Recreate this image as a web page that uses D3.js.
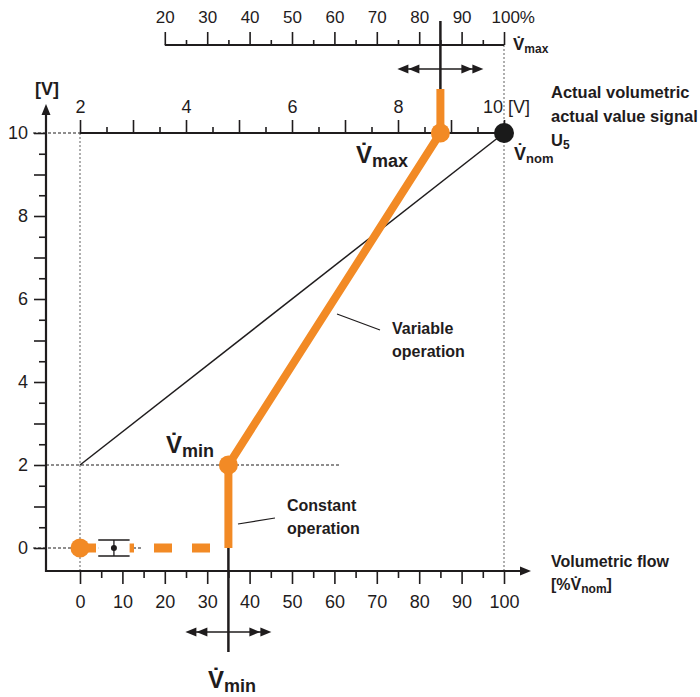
<!DOCTYPE html>
<html><head><meta charset="utf-8">
<script src="https://cdn.jsdelivr.net/npm/d3@7"></script>
<style>
body{margin:0;background:#fff}
svg{display:block}
text{font-family:"Liberation Sans",Arial,Helvetica,sans-serif;fill:#1f1c1d}
.b{font-weight:bold}
</style></head>
<body><svg id="c" width="700" height="697"></svg>
<script>
// ---- data ----
const flowTicks = [0,10,20,30,40,50,60,70,80,90,100];
const flowMinorTicks = [5,15,25,35,45,55,65,75,85,95];
const voltTicks = [0,1,2,3,4,5,6,7,8,9,10];
const voltLabelTicks = [0,2,4,6,8,10];
const voltMinorTicks = [0.5,1.5,2.5,3.5,4.5,5.5,6.5,7.5,8.5,9.5];
const signalTicks = [2,3,4,5,6,7,8,9,10];
const signalLabelTicks = [2,4,6,8,10];
const signalMinorTicks = [2.5,3.5,4.5,5.5,6.5,7.5,8.5,9.5];
const vmaxPctTicks = [20,30,40,50,60,70,80,90,100];
const vmaxPctMinorTicks = [25,35,45,55,65,75,85,95];
const nominalLine = [[0,2],[100,10]];      // [% flow, V]
const vminPct = 35, vmaxPct = 85;
const variableLine = [[vminPct,0],[vminPct,2],[vmaxPct,10]];
const constantLine = [[0,0],[vminPct,0]];
const toleranceCenter = 8, toleranceHalf = 3.7;

// ---- scales ----
const svg = d3.select("#c");
const x = d3.scaleLinear().domain([0,100]).range([80,504]);
const y = d3.scaleLinear().domain([0,10]).range([548,133]);
const xs = d3.scaleLinear().domain([2,10]).range([x(0),x(100)]);
const axisX = 46, axisY = 571, pctY = 45;
const ORANGE = "#f28a25", INK = "#1f1c1d";

// ---- reference dotted / dashed lines ----
const dash = (x1,y1,x2,y2,col,da)=>svg.append("line").attr("x1",x1).attr("y1",y1).attr("x2",x2).attr("y2",y2)
  .attr("stroke",col).attr("stroke-width",1.1).attr("stroke-dasharray",da);
dash(x(0),y(10),x(0),axisY,"#6e6e6e","2,2");
dash(x(100),pctY,x(100),axisY,"#6e6e6e","2,2");
dash(33,y(10),x(0),y(10),INK,"3,2");
dash(axisX,y(2),340,y(2),INK,"3,2");
dash(33,y(0),143,y(0),INK,"3,2");

// ---- axes helpers ----
function styleAxis(g){
  g.select(".domain").remove();
  g.selectAll(".tick line").attr("stroke",INK).attr("stroke-width",1.6);
  g.selectAll(".tick text").attr("fill",INK).style("font-family","'Liberation Sans',Arial,sans-serif");
}
// bottom flow axis
svg.append("g").attr("transform",`translate(0,${axisY})`)
  .call(d3.axisBottom(x).tickValues(flowTicks).tickSize(13).tickPadding(11).tickFormat(d3.format("d")))
  .call(styleAxis).selectAll("text").style("font-size","18px");
svg.append("g").attr("transform",`translate(0,${axisY})`)
  .call(d3.axisBottom(x).tickValues(flowMinorTicks).tickSize(7).tickFormat(""))
  .call(styleAxis);
// left voltage axis
svg.append("g").attr("transform",`translate(${axisX},0)`)
  .call(d3.axisLeft(y).tickValues(voltTicks).tickSize(12).tickPadding(6)
    .tickFormat(d=>voltLabelTicks.includes(d)?d:""))
  .call(styleAxis).selectAll("text").style("font-size","18px");
svg.append("g").attr("transform",`translate(${axisX},0)`)
  .call(d3.axisLeft(y).tickValues(voltMinorTicks).tickSize(7).tickFormat(""))
  .call(styleAxis);
// top signal axis (2..10 V)
svg.append("g").attr("transform",`translate(0,${y(10)})`)
  .call(d3.axisTop(xs).tickValues(signalTicks).tickSize(13).tickPadding(7)
    .tickFormat(d=>(signalLabelTicks.includes(d)&&d!==10)?d:""))
  .call(styleAxis).selectAll("text").style("font-size","18px");
svg.append("g").attr("transform",`translate(0,${y(10)})`)
  .call(d3.axisTop(xs).tickValues(signalMinorTicks).tickSize(6).tickFormat(""))
  .call(styleAxis);
svg.append("text").attr("x",xs(10)-21).attr("y",y(10)-20).style("font-size","18px").text("10 [V]");
// top Vmax percent axis
const pg = svg.append("g").attr("transform",`translate(0,${pctY})`)
  .call(d3.axisTop(x).tickValues(vmaxPctTicks).tickSize(13).tickPadding(9)
    .tickFormat(d=>d===100?"100%":d))
  .call(styleAxis);
pg.selectAll("text").style("font-size","17px");
pg.selectAll(".tick text").filter(d=>d===100).attr("text-anchor","start").attr("x",-13);
svg.append("g").attr("transform",`translate(0,${pctY})`)
  .call(d3.axisTop(x).tickValues(vmaxPctMinorTicks).tickSize(5).tickFormat(""))
  .call(styleAxis);

// axis lines
svg.append("line").attr("x1",x(20)).attr("x2",x(100)).attr("y1",pctY).attr("y2",pctY).attr("stroke",INK).attr("stroke-width",2);
svg.append("line").attr("x1",x(0)).attr("x2",x(100)).attr("y1",y(10)).attr("y2",y(10)).attr("stroke",INK).attr("stroke-width",2);
svg.append("line").attr("x1",axisX).attr("x2",522).attr("y1",axisY).attr("y2",axisY).attr("stroke",INK).attr("stroke-width",2.2);
svg.append("path").attr("d",`M531,${axisY}L520,${axisY-4.5}L520,${axisY+4.5}Z`).attr("fill",INK);
svg.append("line").attr("x1",axisX).attr("x2",axisX).attr("y1",axisY+1).attr("y2",112).attr("stroke",INK).attr("stroke-width",2.2);
svg.append("path").attr("d",`M${axisX},104L${axisX-4.5},115L${axisX+4.5},115Z`).attr("fill",INK);

// nominal line
const line = d3.line().x(d=>x(d[0])).y(d=>y(d[1]));
svg.append("path").attr("d",line(nominalLine)).attr("fill","none").attr("stroke",INK).attr("stroke-width",1.5);

// Vmin / Vmax marker lines
svg.append("line").attr("x1",x(vmaxPct)).attr("x2",x(vmaxPct)).attr("y1",21).attr("y2",y(10)-40)
  .attr("stroke",INK).attr("stroke-width",2.5);
svg.append("line").attr("x1",x(vminPct)).attr("x2",x(vminPct)).attr("y1",y(0)).attr("y2",652)
  .attr("stroke",INK).attr("stroke-width",2.5);

// double arrows
function dblArrow(cx,cy){
  const half=43, L=11, W=4.5;
  svg.append("line").attr("x1",cx-half+4).attr("x2",cx+half-4).attr("y1",cy).attr("y2",cy).attr("stroke",INK).attr("stroke-width",1.6);
  [-1,1].forEach(s=>{
    [0,L].forEach(o=>{
      const tip = cx + s*(half-o);
      svg.append("path").attr("d",`M${tip},${cy}L${tip-s*L},${cy-W}L${tip-s*L},${cy+W}Z`).attr("fill",INK);
    });
  });
}
dblArrow(x(vmaxPct),69);
dblArrow(x(vminPct),632);

// constant operation dashed
svg.append("path").attr("d",line(constantLine)).attr("fill","none").attr("stroke",ORANGE)
  .attr("stroke-width",9).attr("stroke-dasharray","18,20").attr("stroke-dashoffset",2);
// tolerance symbol
const tc = x(toleranceCenter), th = x(toleranceHalf)-x(0);
svg.append("rect").attr("x",tc-th).attr("y",y(0)-8).attr("width",2*th).attr("height",16).attr("fill","#fff");
[y(0)-8,y(0)+8].forEach(yy=>svg.append("line").attr("x1",tc-th).attr("x2",tc+th).attr("y1",yy).attr("y2",yy).attr("stroke",INK).attr("stroke-width",1.5));
svg.append("line").attr("x1",tc).attr("x2",tc).attr("y1",y(0)-8).attr("y2",y(0)+8).attr("stroke",INK).attr("stroke-width",1.3);
svg.append("circle").attr("cx",tc).attr("cy",y(0)).attr("r",3).attr("fill",INK);

// variable operation thick orange
svg.append("path").attr("d",line(variableLine)).attr("fill","none").attr("stroke",ORANGE)
  .attr("stroke-width",8).attr("stroke-linejoin","round");
svg.append("line").attr("x1",x(vmaxPct)).attr("x2",x(vmaxPct)).attr("y1",y(10)).attr("y2",y(10)-44)
  .attr("stroke",ORANGE).attr("stroke-width",8);

// dots
svg.append("circle").attr("cx",x(100)).attr("cy",y(10)).attr("r",10).attr("fill","#1a1a1a");
[[vmaxPct,10],[vminPct,2],[0,0]].forEach(d=>svg.append("circle").attr("cx",x(d[0])).attr("cy",y(d[1])).attr("r",9.5).attr("fill",ORANGE));

// leader lines
svg.append("line").attr("x1",337).attr("y1",314).attr("x2",380).attr("y2",330).attr("stroke",INK).attr("stroke-width",1.2);
svg.append("line").attr("x1",238).attr("y1",524).attr("x2",275).attr("y2",518).attr("stroke",INK).attr("stroke-width",1.2);

// ---- labels ----
function vlabel(xp,yp,big,sub,sub_txt){
  const t = svg.append("text").attr("class","b").attr("x",xp).attr("y",yp).style("font-size",big+"px");
  t.append("tspan").text("V\u0307");
  t.append("tspan").attr("dy",big*0.18).style("font-size",sub+"px").text(sub_txt);
  return t;
}
vlabel(356,163,24,18,"max");
vlabel(166,453,24,18,"min");
vlabel(208,688,24,18,"min");
vlabel(514,160,18,13,"nom");
vlabel(513,50,17,12,"max");

svg.append("text").attr("class","b").attr("x",35).attr("y",95).style("font-size","18px").text("[V]");

const multi=(xp,yp,lines,fs,lh)=>{
  const t=svg.append("text").attr("class","b").attr("x",xp).attr("y",yp).style("font-size",fs+"px");
  lines.forEach((l,i)=>t.append("tspan").attr("x",xp).attr("y",yp+i*lh).text(l));
  return t;
};
multi(551,98,["Actual volumetric","actual value signal"],16.5,24);
const u5=svg.append("text").attr("class","b").attr("x",551).attr("y",146).style("font-size","16.5px");
u5.append("tspan").text("U");
u5.append("tspan").attr("dy",3).style("font-size","12px").text("5");

multi(392,334,["Variable","operation"],16,23);
multi(287,511,["Constant","operation"],16,23);
multi(551,567,["Volumetric flow"],16,24);
const vf=svg.append("text").attr("class","b").attr("x",551).attr("y",590).style("font-size","16px");
vf.append("tspan").text("[%V\u0307");
vf.append("tspan").attr("dy",3).style("font-size","12px").text("nom");
vf.append("tspan").attr("dy",-3).text("]");
</script></body></html>
